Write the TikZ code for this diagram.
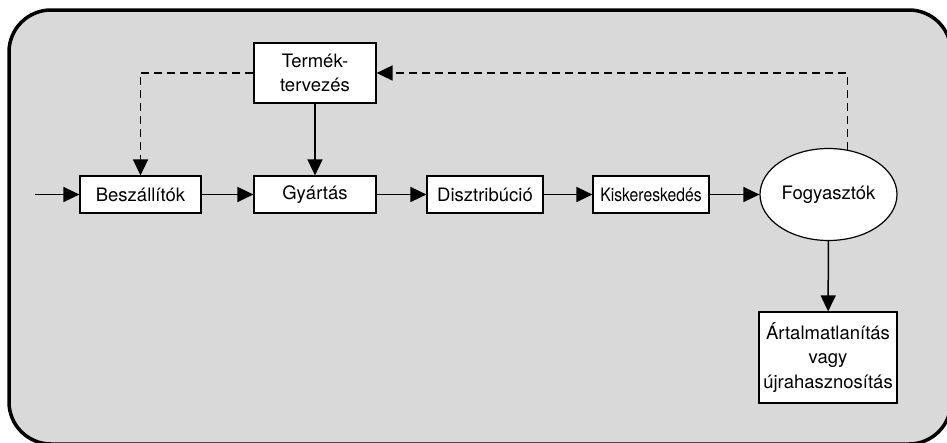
\documentclass[tikz,border=0pt]{standalone}
\usepackage{fontspec}
\setmainfont{TeX Gyre Heros}
\usepackage{graphicx}
\usetikzlibrary{arrows.meta,shapes.geometric}
\definecolor{framegray}{RGB}{217,217,217}
\begin{document}
\begin{tikzpicture}[x=1pt,y=-1pt,
  lbl/.style={font=\fontsize{18.5}{24.5}\selectfont},
  box/.style={lbl,draw=black,fill=white,line width=1.2pt,minimum height=37pt,inner sep=0pt,align=center},
  conn/.style={line width=1.5pt,-{Triangle[length=16pt,width=15pt]}},
  dconn/.style={conn,dash pattern=on 8pt off 5pt}]
\clip (0,0) rectangle (947,442);
\draw[line width=3.5pt,fill=framegray,rounded corners=42pt] (9,10) rectangle (951,444);
\node[box,minimum width=121pt] (bes) at (140.5,194.5) {Beszállítók};
\node[box,minimum width=122pt] (gyar) at (315,194.5) {Gyártás};
\node[box,minimum width=122pt,minimum height=60pt] (term) at (315,73) {Termék-\\tervezés};
\node[box,minimum width=116pt] (disz) at (485,194.5) {Disztribúció};
\node[box,minimum width=116pt] (kisk) at (651,194.5) {\scalebox{0.85}[1]{Kiskereskedés}};
\node[lbl,ellipse,draw=black,fill=white,line width=1.2pt,minimum width=137pt,minimum height=92pt,inner sep=0pt] (fogy) at (828.5,194.5) {Fogyasztók};
\node[box,minimum width=138pt,minimum height=91pt] (art) at (828,357.5) {Ártalmatlanítás\\vagy\\újrahasznosítás};
\coordinate (start) at (35,194.5);
\draw[conn] (start) -- (bes);
\draw[conn] (bes) -- (gyar);
\draw[conn] (gyar) -- (disz);
\draw[conn] (disz) -- (kisk);
\draw[conn] (kisk) -- (fogy);
\draw[conn] (term) -- (gyar);
\draw[conn] (fogy) -- (art);
\draw[dconn] (term.west) -| (bes.north);
\draw[dconn] (fogy.67) |- (term.east);
\end{tikzpicture}
\end{document}
